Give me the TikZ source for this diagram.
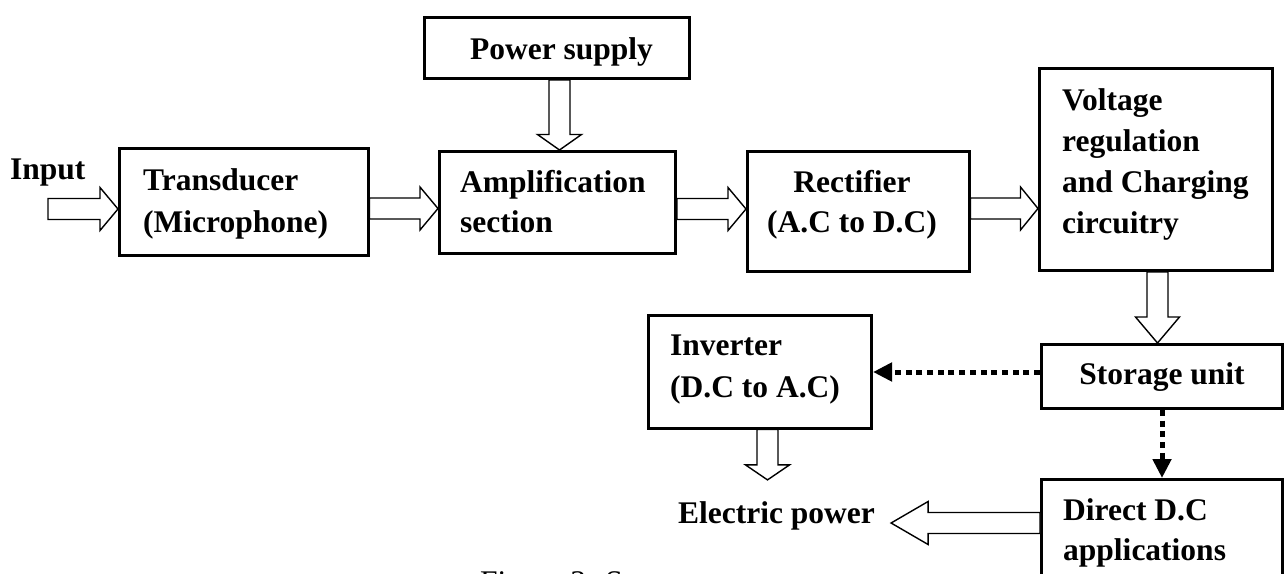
\documentclass[tikz,border=0pt]{standalone}
\usepackage{fontspec}
\setmainfont{Liberation Serif}
\usetikzlibrary{arrows.meta,calc}
\newcommand{\lns}[3]{\fontsize{31.5}{#1}\selectfont\begin{tabular}[t]{@{}#2@{}}#3\end{tabular}}
% right-pointing hollow block arrow: start, end, y level, head length
\newcommand{\rarrow}[4]{\draw[hollow] let \p1=(#1), \p2=(#2), \p3=(0,#3) in
 (\x1,\y3+10.5pt) -- (\x2-#4,\y3+10.5pt) -- (\x2-#4,\y3+21.5pt) -- (\x2,\y3) --
 (\x2-#4,\y3-21.5pt) -- (\x2-#4,\y3-10.5pt) -- (\x1,\y3-10.5pt) -- cycle;}
% left-pointing hollow block arrow
\newcommand{\larrow}[4]{\draw[hollow] let \p1=(#1), \p2=(#2), \p3=(0,#3) in
 (\x1,\y3+10.5pt) -- (\x2+#4,\y3+10.5pt) -- (\x2+#4,\y3+21.5pt) -- (\x2,\y3) --
 (\x2+#4,\y3-21.5pt) -- (\x2+#4,\y3-10.5pt) -- (\x1,\y3-10.5pt) -- cycle;}
% down-pointing hollow block arrow: start, end, x level, head length
\newcommand{\darrow}[4]{\draw[hollow] let \p1=(#1), \p2=(#2), \p3=(#3,0) in
 (\x3-10.5pt,\y1) -- (\x3-10.5pt,\y2+#4) -- (\x3-22pt,\y2+#4) -- (\x3,\y2) --
 (\x3+22pt,\y2+#4) -- (\x3+10.5pt,\y2+#4) -- (\x3+10.5pt,\y1) -- cycle;}
\begin{document}
\begin{tikzpicture}[x=1pt,y=-1pt,
  blockbox/.style={draw, line width=3pt, rectangle, inner sep=0pt, fill=white},
  txt/.style={inner sep=0pt, font=\bfseries},
  hollow/.style={draw, line width=1.4pt, fill=white, line join=miter},
  dotarrow/.style={line width=5pt, dash pattern=on 6pt off 4.7pt,
    -{Triangle[length=19pt,width=18pt]}}]
\useasboundingbox (0,0) rectangle (1285,573);
\clip (0,0) rectangle (1285,573);

% boxes
\node[blockbox, minimum width=265pt, minimum height=61pt] (ps) at (557,48) {};
\node[blockbox, minimum width=248.5pt, minimum height=107pt] (tr) at (243.75,201.5) {};
\node[blockbox, minimum width=236pt, minimum height=102pt] (amp) at (557.5,202.5) {};
\node[blockbox, minimum width=221.5pt, minimum height=120.5pt] (rect) at (858.25,211.25) {};
\node[blockbox, minimum width=232.5pt, minimum height=202.5pt] (volt) at (1155.75,169.25) {};
\node[blockbox, minimum width=241pt, minimum height=64pt] (st) at (1162,376.5) {};
\node[blockbox, minimum width=223.5pt, minimum height=112.5pt] (inv) at (759.75,371.75) {};
\node[blockbox, minimum width=241pt, minimum height=160.5pt] (dc) at (1162,559.75) {};

% texts
\node[txt, anchor=base west] (inT) at (10,179) {\lns{42}{l}{Input}};
\node[txt, anchor=base] (psT) at (561.5,59) {\lns{42}{c}{Power supply}};
\node[txt, anchor=base west] (trT) at (143,190) {\lns{42}{l}{Transducer\\(Microphone)}};
\node[txt, anchor=base west] (ampT) at (460,192) {\lns{40}{l}{Amplification\\section}};
\node[txt, anchor=base] (rectT) at (852,192) {\lns{40}{c}{Rectifier\\(A.C to D.C)}};
\node[txt, anchor=base west] (voltT) at (1062,110) {\lns{41.3}{l}{Voltage\\regulation\\and Charging\\circuitry}};
\node[txt, anchor=base] (stT) at (1162,384) {\lns{42}{c}{Storage unit}};
\node[txt, anchor=base west] (invT) at (670,355) {\lns{42}{l}{Inverter\\(D.C to A.C)}};
\node[txt, anchor=base west] (dcT) at (1063,520) {\lns{40}{l}{Direct D.C\\applications}};
\node[txt, anchor=base, inner xsep=16pt, inner ysep=13.5pt] (ep) at (776.5,523) {\lns{42}{c}{Electric power}};
\node[inner sep=0pt, anchor=base west] (cap) at (480,592) {\fontsize{31.5}{42}\selectfont Figure 3: S};

% block arrows
\coordinate (inS) at (48,209);
\rarrow{inS}{tr.west}{209}{18pt}
\rarrow{tr.east}{amp.west}{208.5}{18pt}
\rarrow{amp.east}{rect.west}{209}{18pt}
\rarrow{rect.east}{volt.west}{208.5}{17.5pt}
\darrow{ps.south}{amp.north}{559.5}{15.5pt}
\darrow{volt.south}{st.north}{1157.5}{26pt}
\darrow{inv.south}{ep.north}{767.5}{15pt}
\larrow{dc.west}{ep.east}{523}{37pt}

% dotted arrows
\coordinate (yl) at (0,372);
\draw[dotarrow] (st.west |- yl) -- (inv.east |- yl);
\draw[dotarrow] (st.south) -- (dc.north);
\end{tikzpicture}
\end{document}
